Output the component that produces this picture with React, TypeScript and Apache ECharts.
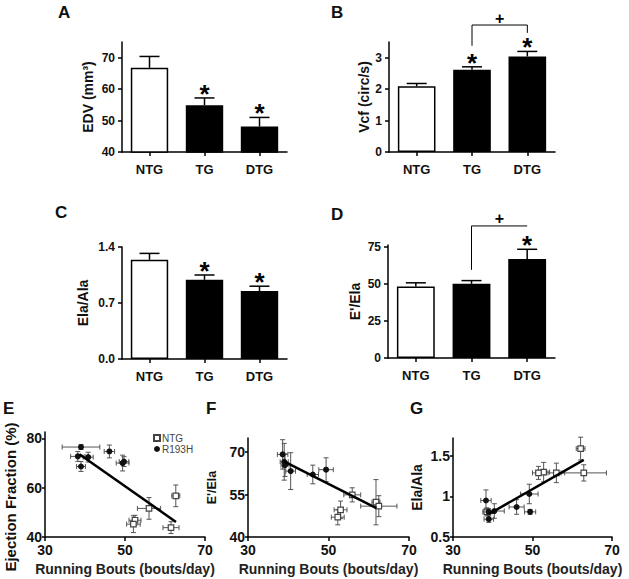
import React, { useEffect, useRef } from 'react';
import * as echarts from 'echarts';

const FF = '"Liberation Sans", Arial, Helvetica, sans-serif';
const INK = '#111';

// ---------- bar panels (A-D) ----------
const groups = ['NTG', 'TG', 'DTG'];

const edvMean = [66.8, 54.9, 48.1];
const edvSem = [3.6, 2.3, 2.9];
const edvSig = ['', '*', '*'];
const edvTicks = [40, 50, 60, 70];

const vcfMean = [2.09, 2.62, 3.04];
const vcfSem = [0.09, 0.09, 0.16];
const vcfSig = ['', '*', '*'];
const vcfTicks = [0, 1, 2, 3];
// [fromGroup, toGroup, barLevel, leftLegEnd, rightLegEnd]
const vcfBracket = [1, 2, 4.04, 3.38, 3.79];

const elaAlaMean = [1.24, 0.99, 0.85];
const elaAlaSem = [0.08, 0.06, 0.06];
const elaAlaSig = ['', '*', '*'];
const elaAlaTicks = [0, 0.7, 1.4];

const eElaMean = [48.4, 50.2, 67.1];
const eElaSem = [2.5, 2.2, 6.5];
const eElaSig = ['', '', '*'];
const eElaTicks = [0, 25, 50, 75];
const eElaBracket = [1, 2, 89.4, 59.7, 89.4];

// ---------- scatter panels (E-G): [x, y, xErr, yErr] ----------
const runTicks = [30, 50, 70];

const efNtg = [
  [62.7, 56.7, 1.0, 4.4],
  [56.0, 51.6, 2.9, 4.4],
  [52.5, 46.8, 1.5, 2.0],
  [52.1, 45.2, 1.7, 3.4],
  [61.5, 43.8, 2.0, 2.4],
];
const efR193h = [
  [39.0, 76.5, 4.7, 1.0],
  [38.2, 72.7, 1.8, 2.0],
  [40.8, 72.4, 1.25, 2.0],
  [39.0, 68.6, 1.1, 2.0],
  [46.1, 74.7, 1.3, 2.6],
  [49.4, 70.0, 1.6, 3.2],
  [49.75, 70.6, 1.2, 2.0],
];
const efFit = [[38.6, 73.6], [62.75, 46.1]];
const efTicks = [40, 60, 80];

const eElaNtg = [
  [55.9, 54.9, 2.1, 2.5],
  [61.8, 52.3, 1.0, 8.0],
  [62.5, 50.9, 4.5, 3.7],
  [53.0, 49.6, 1.6, 3.1],
  [52.3, 47.0, 1.6, 2.7],
];
const eElaR193h = [
  [38.6, 69.2, 1.3, 5.2],
  [39.0, 66.6, 1.0, 6.5],
  [39.2, 65.4, 1.0, 4.0],
  [40.6, 63.3, 1.2, 6.5],
  [46.1, 62.1, 1.4, 3.3],
  [49.4, 63.8, 1.8, 4.2],
];
const eElaFit = [[38.8, 66.8], [61.9, 50.2]];
const eElaScTicks = [40, 55, 70];

const elaAlaNtg = [
  [62.1, 1.59, 1.1, 0.14],
  [52.8, 1.3, 1.5, 0.12],
  [51.5, 1.29, 1.5, 0.08],
  [56.0, 1.29, 2.1, 0.12],
  [62.9, 1.29, 5.7, 0.1],
  [38.5, 0.81, 1.0, 0.05],
];
const elaAlaR193h = [
  [38.3, 0.95, 1.3, 0.13],
  [38.9, 0.81, 1.0, 0.04],
  [39.0, 0.72, 1.2, 0.04],
  [40.4, 0.82, 2.5, 0.09],
  [46.0, 0.87, 1.9, 0.09],
  [49.2, 1.03, 2.2, 0.12],
  [49.4, 0.81, 1.4, 0.03],
];
const elaAlaFit = [[39.1, 0.785], [62.9, 1.45]];
const elaAlaScTicks = [0.5, 1, 1.5];

const AXIS_LINE = { show: true, onZero: false, lineStyle: { color: '#000', width: 1.5 } };
const tickStyle = { color: '#000', width: 1.5 };

function barErrRender(sig: string[]) {
  return (params: any, api: any) => {
    const i = params.dataIndex;
    const m = api.value(1) as number;
    const e = api.value(2) as number;
    const base = api.coord([api.value(0), m]);
    const top = api.coord([api.value(0), m + e]);
    const cap = 10;
    const st = { stroke: '#000', lineWidth: 1.5 };
    const children: any[] = [
      { type: 'line', shape: { x1: top[0], y1: base[1], x2: top[0], y2: top[1] }, style: st },
      { type: 'line', shape: { x1: top[0] - cap, y1: top[1], x2: top[0] + cap, y2: top[1] }, style: st },
    ];
    if (sig[i]) {
      children.push({
        type: 'text',
        x: top[0],
        y: top[1] - 4,
        style: {
          text: sig[i], fill: '#000', fontSize: 26, fontWeight: 'bold', fontFamily: FF,
          align: 'center', verticalAlign: 'middle', textAlign: 'center', textVerticalAlign: 'middle',
        },
      });
    }
    return { type: 'group', children };
  };
}

function bracketRender(params: any, api: any) {
  const a = api.value(0), b = api.value(1), y = api.value(2), la = api.value(3), lb = api.value(4);
  const p1 = api.coord([a, y]);
  const p2 = api.coord([b, y]);
  const q1 = api.coord([a, la]);
  const q2 = api.coord([b, lb]);
  return {
    type: 'group',
    children: [
      {
        type: 'polyline',
        shape: { points: [[q1[0], q1[1]], [p1[0], p1[1]], [p2[0], p2[1]], [q2[0], q2[1]]] },
        style: { stroke: '#000', lineWidth: 1, fill: null },
      },
      {
        type: 'text',
        x: (p1[0] + p2[0]) / 2,
        y: p1[1] - 7,
        style: {
          text: '+', fill: '#000', fontSize: 16, fontWeight: 'bold', fontFamily: FF,
          align: 'center', verticalAlign: 'middle', textAlign: 'center', textVerticalAlign: 'middle',
        },
      },
    ],
  };
}

function errRender(params: any, api: any) {
  const x = api.value(0), y = api.value(1), ex = api.value(2), ey = api.value(3);
  const c = api.coord([x, y]);
  const l = api.coord([x - ex, y]);
  const r = api.coord([x + ex, y]);
  const t = api.coord([x, y + ey]);
  const b = api.coord([x, y - ey]);
  const cap = 2.5;
  const st = { stroke: '#555', lineWidth: 1 };
  const ln = (x1: number, y1: number, x2: number, y2: number) => ({ type: 'line', shape: { x1, y1, x2, y2 }, style: st });
  return {
    type: 'group',
    children: [
      ln(l[0], c[1], r[0], c[1]),
      ln(c[0], t[1], c[0], b[1]),
      ln(l[0], c[1] - cap, l[0], c[1] + cap),
      ln(r[0], c[1] - cap, r[0], c[1] + cap),
      ln(c[0] - cap, t[1], c[0] + cap, t[1]),
      ln(c[0] - cap, b[1], c[0] + cap, b[1]),
    ],
  };
}

const barPanels = [
  { grid: { left: 122, top: 42, width: 165, height: 110 }, mean: edvMean, sem: edvSem, sig: edvSig, min: 40, max: 75, ticks: edvTicks, fmt: (v: number) => String(v), name: 'EDV (mm³)', nameGap: 27, bracket: null as any },
  { grid: { left: 389, top: 42, width: 166, height: 110 }, mean: vcfMean, sem: vcfSem, sig: vcfSig, min: 0, max: 3.5, ticks: vcfTicks, fmt: (v: number) => String(v), name: 'Vcf (circ/s)', nameGap: 17, bracket: vcfBracket },
  { grid: { left: 122, top: 247, width: 165, height: 112 }, mean: elaAlaMean, sem: elaAlaSem, sig: elaAlaSig, min: 0, max: 1.4, ticks: elaAlaTicks, fmt: (v: number) => v.toFixed(1), name: 'Ela/Ala', nameGap: 32, bracket: null as any },
  { grid: { left: 388, top: 245, width: 167, height: 113 }, mean: eElaMean, sem: eElaSem, sig: eElaSig, min: 0, max: 76.5, ticks: eElaTicks, fmt: (v: number) => String(v), name: "E'/Ela", nameGap: 26, bracket: eElaBracket },
];

const scatterPanels = [
  { grid: { left: 45, top: 432, width: 160, height: 105 }, ntg: efNtg, r193h: efR193h, fit: efFit, min: 40, max: 82.6, ticks: efTicks, fmt: (v: number) => String(v), name: '', nameGap: 0, nameSize: 14 },
  { grid: { left: 248, top: 438, width: 161, height: 99 }, ntg: eElaNtg, r193h: eElaR193h, fit: eElaFit, min: 40, max: 75, ticks: eElaScTicks, fmt: (v: number) => String(v), name: "E'/Ela", nameGap: 30, nameSize: 12.5 },
  { grid: { left: 453, top: 438, width: 159, height: 99 }, ntg: elaAlaNtg, r193h: elaAlaR193h, fit: elaAlaFit, min: 0.5, max: 1.72, ticks: elaAlaScTicks, fmt: (v: number) => String(v), name: 'Ela/Ala', nameGap: 29, nameSize: 14 },
];

function buildOption() {
  const grid: any[] = [];
  const xAxis: any[] = [];
  const yAxis: any[] = [];
  const series: any[] = [];

  barPanels.forEach((p, k) => {
    grid.push({ ...p.grid, containLabel: false });
    xAxis.push({
      type: 'category', gridIndex: k, data: groups,
      axisLine: AXIS_LINE,
      axisTick: { show: true, alignWithLabel: true, length: 4, lineStyle: tickStyle },
      axisLabel: { fontSize: 13, fontWeight: 'bold', color: INK, fontFamily: FF, margin: 11 },
      splitLine: { show: false },
    });
    yAxis.push({
      type: 'value', gridIndex: k, min: p.min, max: p.max,
      name: p.name, nameLocation: 'middle', nameGap: p.nameGap,
      nameTextStyle: { fontSize: 14, fontWeight: 'bold', color: INK, fontFamily: FF },
      axisLine: AXIS_LINE,
      axisTick: { show: true, length: 4, lineStyle: tickStyle, customValues: p.ticks },
      axisLabel: { customValues: p.ticks, formatter: p.fmt, fontSize: 12, fontWeight: 'bold', color: INK, fontFamily: FF, margin: 7 },
      splitLine: { show: false },
    });
    series.push({
      type: 'bar', xAxisIndex: k, yAxisIndex: k, barWidth: '68%', z: 2,
      data: p.mean.map((v, i) => ({ value: v, itemStyle: { color: i === 0 ? '#fff' : '#000', borderColor: '#000', borderWidth: 1.5 } })),
    });
    series.push({
      type: 'custom', xAxisIndex: k, yAxisIndex: k, clip: false, z: 3,
      renderItem: barErrRender(p.sig),
      encode: { x: 0, y: 1 },
      data: p.mean.map((v, i) => [i, v, p.sem[i]]),
    });
    if (p.bracket) {
      series.push({
        type: 'custom', xAxisIndex: k, yAxisIndex: k, clip: false, z: 3,
        renderItem: bracketRender,
        encode: { x: 0, y: 2 },
        data: [p.bracket],
      });
    }
  });

  scatterPanels.forEach((p, j) => {
    const k = 4 + j;
    grid.push({ ...p.grid, containLabel: false });
    xAxis.push({
      type: 'value', gridIndex: k, min: 30, max: 70,
      name: 'Running Bouts (bouts/day)', nameLocation: 'middle', nameGap: 25,
      nameTextStyle: { fontSize: 14, fontWeight: 'bold', color: '#222', fontFamily: FF },
      axisLine: AXIS_LINE,
      axisTick: { show: true, length: 4, lineStyle: tickStyle, customValues: runTicks },
      axisLabel: { customValues: runTicks, fontSize: 14, fontWeight: 'bold', color: INK, fontFamily: FF, margin: 6 },
      splitLine: { show: false },
    });
    yAxis.push({
      type: 'value', gridIndex: k, min: p.min, max: p.max,
      name: p.name, nameLocation: 'middle', nameGap: p.nameGap,
      nameTextStyle: { fontSize: p.nameSize, fontWeight: 'bold', color: INK, fontFamily: FF },
      axisLine: AXIS_LINE,
      axisTick: { show: true, length: 3, lineStyle: tickStyle, customValues: p.ticks },
      axisLabel: { customValues: p.ticks, formatter: p.fmt, fontSize: 14, fontWeight: 'bold', color: INK, fontFamily: FF, margin: 3 },
      splitLine: { show: false },
    });
    series.push({
      type: 'custom', xAxisIndex: k, yAxisIndex: k, clip: false, z: 2,
      renderItem: errRender, encode: { x: 0, y: 1 },
      data: [...p.ntg, ...p.r193h],
    });
    series.push({
      type: 'scatter', name: 'NTG', xAxisIndex: k, yAxisIndex: k, z: 3,
      symbol: 'rect', symbolSize: 5.5,
      itemStyle: { color: '#fff', borderColor: '#444', borderWidth: 1.2, opacity: 1 },
      data: p.ntg.map((d) => [d[0], d[1]]),
    });
    series.push({
      type: 'scatter', name: 'R193H', xAxisIndex: k, yAxisIndex: k, z: 3,
      symbol: 'circle', symbolSize: 6,
      itemStyle: { color: '#111', opacity: 1 },
      data: p.r193h.map((d) => [d[0], d[1]]),
    });
    series.push({
      type: 'line', xAxisIndex: k, yAxisIndex: k, z: 4,
      symbol: 'none', lineStyle: { color: '#000', width: 2.5 },
      data: p.fit,
    });
  });

  const letter = (t: string, x: number, y: number) => ({
    type: 'text', left: x, top: y,
    style: { text: t, fontSize: 17, fontWeight: 'bold', fill: '#111', fontFamily: FF },
  });

  return {
    animation: false,
    backgroundColor: '#fff',
    grid, xAxis, yAxis, series,
    legend: {
      data: ['NTG', 'R193H'],
      orient: 'vertical', left: 153, top: 433,
      itemWidth: 6, itemHeight: 6, itemGap: 1, padding: 0,
      textStyle: { fontSize: 10, color: '#444', fontFamily: FF, padding: [0, 0, 0, -3] },
      selectedMode: false,
    },
    graphic: [
      letter('A', 58, 4),
      letter('B', 331, 4),
      letter('C', 55, 204),
      letter('D', 331, 206),
      letter('E', 3, 400),
      letter('F', 206, 400),
      letter('G', 410, 400),
      {
        type: 'text', x: 10, y: 497, rotation: Math.PI / 2,
        style: {
          text: 'Ejection Fraction (%)', fontSize: 15, fontWeight: 'bold', fill: INK, fontFamily: FF,
          align: 'center', verticalAlign: 'middle', textAlign: 'center', textVerticalAlign: 'middle',
        },
      },
    ],
  };
}

export default function App() {
  const ref = useRef<HTMLDivElement>(null);
  useEffect(() => {
    if (!ref.current) return;
    const chart = echarts.init(ref.current, null, { renderer: 'svg' });
    chart.setOption(buildOption() as any);
    return () => chart.dispose();
  }, []);
  return (
    <div
      ref={ref}
      style={{ position: 'absolute', left: 0, top: 0, width: 629, height: 579, background: '#fff' }}
    />
  );
}
